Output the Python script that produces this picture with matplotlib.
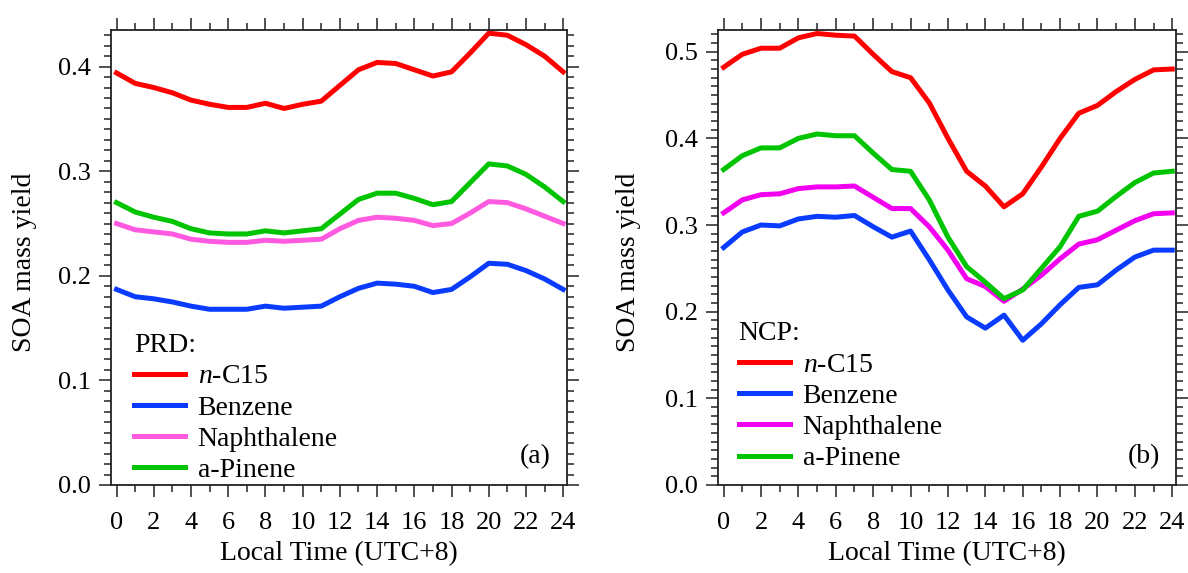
import numpy as np
import matplotlib
matplotlib.use("Agg")
import matplotlib.pyplot as plt
from matplotlib.ticker import MultipleLocator, FormatStrFormatter

plt.rcParams['font.family'] = ['Liberation Serif', 'DejaVu Serif']
plt.rcParams['mathtext.fontset'] = 'custom'
plt.rcParams['mathtext.rm'] = 'Liberation Serif'
plt.rcParams['mathtext.it'] = 'Liberation Serif:italic'

hours = np.arange(0, 25)

# PRD (a)
prd_nc15 = [0.394, 0.384, 0.380, 0.375, 0.368, 0.364, 0.361, 0.361, 0.365, 0.360,
            0.364, 0.367, 0.382, 0.397, 0.404, 0.403, 0.397, 0.391, 0.395, 0.413,
            0.432, 0.430, 0.421, 0.410, 0.395]
prd_benzene = [0.187, 0.180, 0.178, 0.175, 0.171, 0.168, 0.168, 0.168, 0.171, 0.169,
               0.170, 0.171, 0.180, 0.188, 0.193, 0.192, 0.190, 0.184, 0.187, 0.199,
               0.212, 0.211, 0.205, 0.197, 0.187]
prd_naph = [0.250, 0.244, 0.242, 0.240, 0.235, 0.233, 0.232, 0.232, 0.234, 0.233,
            0.234, 0.235, 0.245, 0.253, 0.256, 0.255, 0.253, 0.248, 0.250, 0.260,
            0.271, 0.270, 0.264, 0.257, 0.250]
prd_pinene = [0.270, 0.261, 0.256, 0.252, 0.245, 0.241, 0.240, 0.240, 0.243, 0.241,
              0.243, 0.245, 0.259, 0.273, 0.279, 0.279, 0.274, 0.268, 0.271, 0.289,
              0.307, 0.305, 0.297, 0.285, 0.271]

# NCP (b)
ncp_nc15 = [0.482, 0.497, 0.504, 0.504, 0.516, 0.521, 0.519, 0.518, 0.497, 0.477,
            0.470, 0.441, 0.400, 0.362, 0.345, 0.321, 0.336, 0.367, 0.400, 0.429,
            0.438, 0.454, 0.468, 0.479, 0.480]
ncp_benzene = [0.274, 0.292, 0.300, 0.299, 0.307, 0.310, 0.309, 0.311, 0.298, 0.286,
               0.293, 0.260, 0.225, 0.194, 0.181, 0.196, 0.167, 0.186, 0.208, 0.228,
               0.231, 0.248, 0.263, 0.271, 0.271]
ncp_naph = [0.314, 0.329, 0.335, 0.336, 0.342, 0.344, 0.344, 0.345, 0.332, 0.319,
            0.319, 0.298, 0.271, 0.238, 0.229, 0.212, 0.226, 0.242, 0.261, 0.278,
            0.283, 0.294, 0.305, 0.313, 0.314]
ncp_pinene = [0.364, 0.380, 0.389, 0.389, 0.400, 0.405, 0.403, 0.403, 0.383, 0.364,
              0.362, 0.329, 0.286, 0.252, 0.234, 0.215, 0.225, 0.250, 0.275, 0.310,
              0.316, 0.333, 0.349, 0.360, 0.362]

labels = ['$n$-C15', 'Benzene', 'Naphthalene', 'a-Pinene']


def draw_panel(ax, series, colors, region, tag, ytop, leg_xy, ylab_x):
    for vals, c, lab in zip(series, colors, labels):
        ax.plot(hours, vals, color=c, linewidth=3.6, label=lab, solid_joinstyle='round')
    ax.set_xlim(-0.3, 24.2)
    ax.set_ylim(0, ytop)
    ax.xaxis.set_major_locator(MultipleLocator(2))
    ax.xaxis.set_minor_locator(MultipleLocator(1))
    ax.yaxis.set_major_locator(MultipleLocator(0.1))
    ax.yaxis.set_minor_locator(MultipleLocator(0.01))
    ax.yaxis.set_major_formatter(FormatStrFormatter('%.1f'))
    ax.tick_params(which='both', direction='out', top=True, right=True,
                   labeltop=False, labelright=False, color='#222222', width=1.1)
    ax.tick_params(which='major', length=8.5, labelsize=19)
    ax.tick_params(which='minor', length=5)
    ax.tick_params(axis='x', which='major', pad=11)
    ax.tick_params(axis='y', which='major', pad=6)
    for sp in ax.spines.values():
        sp.set_linewidth(1.3)
        sp.set_color('#222222')
    ax.set_xlabel('Local Time (UTC+8)', fontsize=20, labelpad=5)
    ax.set_ylabel('SOA mass yield', fontsize=20)
    ax.yaxis.set_label_coords(ylab_x, 0.49)
    ax.legend(title=region, loc='lower left', bbox_to_anchor=leg_xy,
              frameon=False, fontsize=20, title_fontsize=20, alignment='left',
              handlelength=1.85, handletextpad=0.45, labelspacing=0.21,
              borderpad=0, borderaxespad=0)
    ax.text(0.965, 0.062, tag, transform=ax.transAxes, fontsize=20,
            ha='right', va='center')


fig = plt.figure(figsize=(11.88, 5.73), dpi=100)
ax1 = fig.add_axes([0.0934, 0.1536, 0.3838, 0.794])
ax2 = fig.add_axes([0.6044, 0.1536, 0.3855, 0.794])

draw_panel(ax1, [prd_nc15, prd_benzene, prd_naph, prd_pinene],
           ['#ff0000', '#0a3cff', '#ff5ae0', '#00c400'], 'PRD:', '(a)', 0.435,
           (0.05, 0.004), -0.162)
draw_panel(ax2, [ncp_nc15, ncp_benzene, ncp_naph, ncp_pinene],
           ['#ff0000', '#0a3cff', '#f200f0', '#00c400'], 'NCP:', '(b)', 0.525,
           (0.045, 0.03), -0.168)

fig.savefig('out.png', dpi=100)
